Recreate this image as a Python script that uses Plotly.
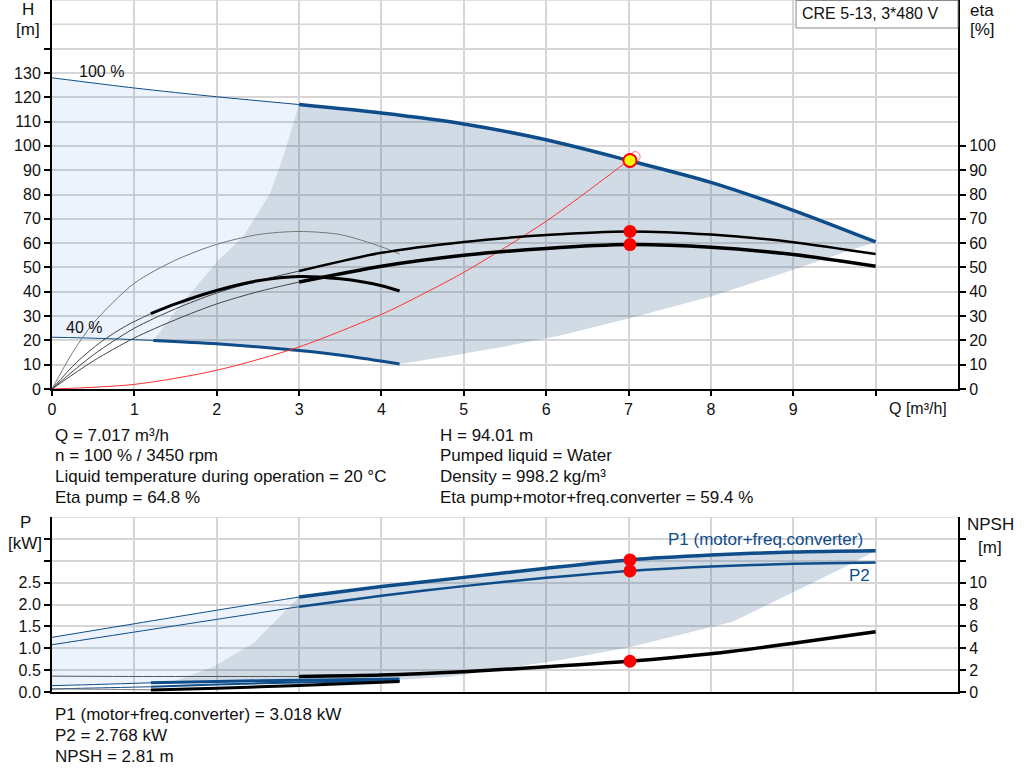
import plotly.graph_objects as go

# ---------------- DATA ----------------
q_tick_vals = [0, 1, 2, 3, 4, 5, 6, 7, 8, 9, 10]
q_tick_text = ["0", "1", "2", "3", "4", "5", "6", "7", "8", "9", ""]
h_tick_vals = [0, 10, 20, 30, 40, 50, 60, 70, 80, 90, 100, 110, 120, 130, 140]
h_tick_text = ["0", "10", "20", "30", "40", "50", "60", "70", "80", "90", "100", "110", "120", "130", ""]
eta_tick_vals = [0, 10, 20, 30, 40, 50, 60, 70, 80, 90, 100]
p_tick_vals = [0, 0.5, 1.0, 1.5, 2.0, 2.5, 3.0, 3.5]
p_tick_text = ["0.0", "0.5", "1.0", "1.5", "2.0", "2.5", "", ""]
npsh_tick_vals = [0, 2, 4, 6, 8, 10, 12, 14]
npsh_tick_text = ["0", "2", "4", "6", "8", "10", "", ""]

# Head at 100 % speed
q_h100_thin = [0, 1, 2, 3]
h100_thin = [128, 123.8, 120.2, 117]
q_h100_thick = [3, 4, 5, 6, 7, 8, 9, 10]
h100_thick = [117, 113.5, 109, 102.5, 94, 85, 73.5, 60.5]
# Head at 40 % speed
q_h40_thin = [0, 0.6, 1.23]
h40_thin = [21.3, 20.8, 20.0]
q_h40_thick = [1.23, 2, 3, 3.6, 4.22]
h40_thick = [20.0, 18.6, 15.8, 13.5, 10.3]
# Operating range boundaries (head diagram)
q_bnd_top = [1.23, 1.5, 1.75, 2.02, 2.32, 2.65, 2.82, 3.0]
h_bnd_top = [20, 32, 42, 53, 62.5, 80.5, 97, 117]
q_low_top = [4.22, 4.83, 5.5, 6.17, 7, 8, 9, 9.6, 10]
h_low_top = [10.4, 13.6, 17.5, 22, 29, 38, 49, 56, 60.5]

# Efficiency curves
q_etap100_thin = [0, 0.5, 1, 1.5, 2, 2.5, 3]
etap100_thin = [0, 14, 25, 33, 39.5, 44.5, 48.5]
q_etap100_thick = [3, 4, 5, 6, 7, 8, 9, 10]
etap100_thick = [48.5, 56, 60.5, 63.3, 64.8, 63.5, 60.4, 55.5]
q_etat100_thin = [0, 0.5, 1, 1.5, 2, 2.5, 3]
etat100_thin = [0, 11.5, 21, 28.5, 35, 40, 44]
q_etat100_thick = [3, 4, 5, 6, 7, 8, 9, 10]
etat100_thick = [44, 50.5, 55, 57.8, 59.4, 58.3, 55.3, 50.5]
q_etap40 = [0, 0.25, 0.5, 1, 1.5, 2, 2.5, 3, 3.5, 4, 4.22]
etap40 = [0, 15, 27, 43.5, 53, 59.5, 63.5, 64.8, 63.5, 58.5, 55.5]
q_etat40_thin = [0, 0.3, 0.6, 0.9, 1.2]
etat40_thin = [0, 11, 19.5, 26, 31]
q_etat40_thick = [1.2, 1.5, 2, 2.5, 3, 3.5, 4, 4.22]
etat40_thick = [31, 35, 40.5, 44.5, 46.3, 45.3, 42.5, 40.3]

# System curve
q_sys = [0, 1, 2, 3, 4, 4.22, 5, 6, 7, 7.08]
h_sys = [0, 1.9, 7.7, 17.3, 30.7, 34.2, 48, 69, 94, 96]

# Duty point
q_duty = 7.017
h_duty = 94.01
eta_pump_duty = 64.8
eta_total_duty = 59.4
p1_duty = 3.018
p2_duty = 2.768
npsh_duty = 2.81
q_req = 7.08
h_req = 95.6

# Power curves
q_p1_100_thin = [0, 1, 2, 3]
p1_100_thin = [1.25, 1.56, 1.87, 2.17]
q_p1_100_thick = [3, 4, 5, 6, 7, 8, 9, 10]
p1_100_thick = [2.17, 2.41, 2.62, 2.83, 3.018, 3.13, 3.2, 3.23]
q_p2_100_thin = [0, 1, 2, 3]
p2_100_thin = [1.08, 1.37, 1.66, 1.95]
q_p2_100_thick = [3, 4, 5, 6, 7, 8, 9, 10]
p2_100_thick = [1.95, 2.2, 2.42, 2.61, 2.768, 2.87, 2.93, 2.96]
q_p1_40_thin = [0, 0.6, 1.2]
p1_40_thin = [0.145, 0.175, 0.21]
q_p1_40_thick = [1.2, 2, 3, 4.22]
p1_40_thick = [0.21, 0.24, 0.27, 0.30]
q_p2_40_thin = [0, 0.6, 1.2]
p2_40_thin = [0.07, 0.095, 0.12]
q_p2_40_thick = [1.2, 2, 3, 4.22]
p2_40_thick = [0.12, 0.17, 0.22, 0.26]
# NPSH curves
q_npsh100_thin = [0, 1, 2, 3]
npsh100_thin = [1.45, 1.42, 1.42, 1.42]
q_npsh100_thick = [3, 4, 5, 6, 7, 8, 9, 10]
npsh100_thick = [1.42, 1.55, 1.86, 2.3, 2.81, 3.5, 4.45, 5.5]
q_npsh40_thin = [0, 0.6, 1.2]
npsh40_thin = [0.28, 0.25, 0.2]
q_npsh40_thick = [1.2, 2, 3, 4.22]
npsh40_thick = [0.18, 0.35, 0.6, 0.95]
# Operating range boundaries (power diagram)
q_bnd_bot = [1.2, 1.5, 1.96, 2.45, 2.85, 3.0]
p_bnd_bot = [0.21, 0.26, 0.58, 1.12, 1.88, 2.17]
q_low_bot = [4.22, 4.83, 6.17, 7.0, 7.6, 8.27, 9.0, 9.65, 10]
p_low_bot = [0.28, 0.35, 0.73, 1.02, 1.3, 1.61, 2.29, 2.88, 3.23]

# ---------------- STYLE ----------------
W, HP = 1024, 781
FONT = "Liberation Sans, Arial, sans-serif"
BLUE = "#0E4C8A"
LIGHT = "rgba(30,120,230,0.085)"
GREY = "rgba(40,90,140,0.217)"
GRID = "#D6D6D6"
TXT = 17


def px(x):
    return x / W


def py(y):
    return 1 - y / HP


def rev(a):
    return list(reversed(a))


fig = go.Figure()


def line(x, y, color, width, xa="x", ya="y", shape="spline"):
    fig.add_trace(go.Scatter(x=x, y=y, mode="lines", xaxis=xa, yaxis=ya,
                             line=dict(color=color, width=width, shape=shape, smoothing=0.8),
                             hoverinfo="skip", showlegend=False))


def area(x, y, color, xa="x", ya="y"):
    fig.add_trace(go.Scatter(x=x, y=y, mode="lines", fill="toself", fillcolor=color,
                             xaxis=xa, yaxis=ya, line=dict(width=0), hoverinfo="skip",
                             showlegend=False))


# ---- top diagram areas ----
area(q_h100_thin + rev(q_bnd_top) + rev(q_h40_thin),
     h100_thin + rev(h_bnd_top) + rev(h40_thin), LIGHT)
area(q_h100_thick + rev(q_low_top) + rev(q_h40_thick) + q_bnd_top,
     h100_thick + rev(h_low_top) + rev(h40_thick) + h_bnd_top, GREY)

# ---- efficiency curves ----
line(q_etap40, etap40, "#777777", 1, ya="y2")
line(q_etap100_thin, etap100_thin, "#444444", 1, ya="y2")
line(q_etat100_thin, etat100_thin, "#444444", 1, ya="y2")
line(q_etat40_thin, etat40_thin, "#444444", 1, ya="y2")
line(q_etat40_thick, etat40_thick, "black", 3, ya="y2")
line(q_etap100_thick, etap100_thick, "black", 2.5, ya="y2")
line(q_etat100_thick, etat100_thick, "black", 3.5, ya="y2")

# ---- head curves ----
line(q_h100_thin, h100_thin, BLUE, 1)
line(q_h100_thick, h100_thick, BLUE, 3.5)
line(q_h40_thin, h40_thin, BLUE, 1)
line(q_h40_thick, h40_thick, BLUE, 3)
line(q_sys, h_sys, "#FF3030", 1)

# ---- duty point markers ----
fig.add_trace(go.Scatter(x=[q_req], y=[h_req], mode="markers", hoverinfo="skip", showlegend=False,
                         marker=dict(size=10, color="rgba(0,0,0,0)",
                                     line=dict(color="rgba(255,60,60,0.7)", width=1))))
fig.add_trace(go.Scatter(x=[q_duty], y=[h_duty], mode="markers", hoverinfo="skip", showlegend=False,
                         marker=dict(size=13, color="#FFFF00", line=dict(color="#FF0000", width=2))))
fig.add_trace(go.Scatter(x=[q_duty, q_duty], y=[eta_pump_duty, eta_total_duty], mode="markers",
                         yaxis="y2", hoverinfo="skip", showlegend=False,
                         marker=dict(size=13, color="#FF0000")))

# ---- bottom diagram areas ----
area(q_p1_100_thin + rev(q_bnd_bot) + rev(q_p1_40_thin),
     p1_100_thin + rev(p_bnd_bot) + rev(p1_40_thin), LIGHT, xa="x2", ya="y3")
area(q_p1_100_thick + rev(q_low_bot) + rev(q_p1_40_thick) + q_bnd_bot,
     p1_100_thick + rev(p_low_bot) + rev(p1_40_thick) + p_bnd_bot, GREY, xa="x2", ya="y3")

line(q_npsh100_thin, npsh100_thin, "#555555", 1, xa="x2", ya="y4")
line(q_npsh40_thin, npsh40_thin, "#777777", 1, xa="x2", ya="y4")
line(q_npsh100_thick, npsh100_thick, "black", 3.5, xa="x2", ya="y4")
line(q_npsh40_thick, npsh40_thick, "black", 3, xa="x2", ya="y4")
line(q_p1_40_thin, p1_40_thin, BLUE, 1, xa="x2", ya="y3")
line(q_p2_40_thin, p2_40_thin, BLUE, 1, xa="x2", ya="y3")
line(q_p1_40_thick, p1_40_thick, BLUE, 3, xa="x2", ya="y3")
line(q_p2_40_thick, p2_40_thick, BLUE, 2, xa="x2", ya="y3")
line(q_p1_100_thin, p1_100_thin, BLUE, 1, xa="x2", ya="y3")
line(q_p2_100_thin, p2_100_thin, BLUE, 1, xa="x2", ya="y3")
line(q_p1_100_thick, p1_100_thick, BLUE, 3.5, xa="x2", ya="y3")
line(q_p2_100_thick, p2_100_thick, BLUE, 2.5, xa="x2", ya="y3")

fig.add_trace(go.Scatter(x=[q_duty, q_duty], y=[p1_duty, p2_duty], mode="markers",
                         xaxis="x2", yaxis="y3", hoverinfo="skip", showlegend=False,
                         marker=dict(size=13, color="#FF0000")))
fig.add_trace(go.Scatter(x=[q_duty], y=[npsh_duty], mode="markers",
                         xaxis="x2", yaxis="y4", hoverinfo="skip", showlegend=False,
                         marker=dict(size=13, color="#FF0000")))

# ---------------- LAYOUT ----------------
xdom = [px(52), px(958)]
top_dom = [py(389), 1.0]
bot_dom = [py(692), py(517)]
tickfont = dict(family=FONT, size=16, color="#111111")

common_x = dict(range=[0, 11], tickvals=q_tick_vals, showgrid=True, gridcolor=GRID, gridwidth=1.5,
                zeroline=False, showline=True, linecolor="black", linewidth=2, tickfont=tickfont,
                fixedrange=True, automargin=False)
common_y = dict(zeroline=False, showline=True, linecolor="black", linewidth=2, ticks="outside",
                ticklen=6, tickcolor="black", tickwidth=2, tickfont=tickfont, automargin=False,
                fixedrange=True)

fig.update_layout(
    width=W, height=HP, margin=dict(l=0, r=0, t=0, b=0, autoexpand=False),
    paper_bgcolor="white", plot_bgcolor="white", showlegend=False,
    font=dict(family=FONT, size=16, color="#111111"),
    xaxis=dict(common_x, domain=xdom, anchor="y", ticktext=q_tick_text, ticks="outside",
               ticklen=5, tickcolor="black", tickwidth=1.5),
    yaxis=dict(common_y, domain=top_dom, range=[0, 160], tickvals=h_tick_vals, ticktext=h_tick_text,
               showgrid=True, gridcolor=GRID, gridwidth=1.5, anchor="x"),
    yaxis2=dict(common_y, overlaying="y", side="right", anchor="x", range=[0, 160],
                tickvals=eta_tick_vals, showgrid=False),
    xaxis2=dict(common_x, domain=xdom, anchor="y3", showticklabels=False, ticks=""),
    yaxis3=dict(common_y, domain=bot_dom, range=[0, 4], tickvals=p_tick_vals, ticktext=p_tick_text,
                showgrid=True, gridcolor=GRID, gridwidth=1.5, anchor="x2"),
    yaxis4=dict(common_y, overlaying="y3", side="right", anchor="x2", range=[0, 16],
                tickvals=npsh_tick_vals, ticktext=npsh_tick_text, showgrid=False),
)

shapes = []
# extra top grid lines (no ticks)
for v in [150, 160]:
    shapes.append(dict(type="line", xref="x", yref="y", x0=0, x1=11, y0=v, y1=v,
                       line=dict(color=GRID, width=1.5), layer="below"))
shapes.append(dict(type="line", xref="x2", yref="y3", x0=0, x1=11, y0=4, y1=4,
                   line=dict(color=GRID, width=1.5), layer="below"))
# model box
shapes.append(dict(type="rect", xref="paper", yref="paper", x0=px(796), x1=px(958),
                   y0=py(28), y1=py(0.5), line=dict(color="#888888", width=1), fillcolor="white",
                   layer="above"))
fig.update_layout(shapes=shapes)

ann = []


def text(x, y, s, xanchor="left", color="#111111", size=TXT, xref="paper", yref="paper"):
    ann.append(dict(x=x, y=y, xref=xref, yref=yref, text=s, showarrow=False, xanchor=xanchor,
                    yanchor="middle", font=dict(family=FONT, size=size, color=color)))


text(px(870), py(14), "CRE 5-13, 3*480 V", xanchor="center", size=16)
text(px(28), py(10), "H", xanchor="center")
text(px(28), py(30), "[m]", xanchor="center")
text(px(982), py(11), "eta", xanchor="center")
text(px(982), py(30), "[%]", xanchor="center")
text(px(918), py(408), "Q [m³/h]", xanchor="center", size=16)
text(0.3, 130.5, "100 %", xref="x", yref="y", size=16)
text(0.15, 25.5, "40 %", xref="x", yref="y", size=16)

left_lines = ["Q = 7.017 m³/h", "n = 100 % / 3450 rpm",
              "Liquid temperature during operation = 20 °C", "Eta pump = 64.8 %"]
right_lines = ["H = 94.01 m", "Pumped liquid = Water", "Density = 998.2 kg/m³",
               "Eta pump+motor+freq.converter = 59.4 %"]
for i, (a, b) in enumerate(zip(left_lines, right_lines)):
    yy = 435 + i * 20.7
    text(px(53), py(yy), a)
    text(px(438), py(yy), b)

text(px(25), py(522), "P", xanchor="center")
text(px(25), py(543), "[kW]", xanchor="center")
text(px(990), py(524), "NPSH", xanchor="center")
text(px(990), py(547), "[m]", xanchor="center")
text(9.87, 3.49, "P1 (motor+freq.converter)", xanchor="right", color=BLUE, xref="x2", yref="y3")
text(9.95, 2.66, "P2", xanchor="right", color=BLUE, xref="x2", yref="y3")

bottom_lines = ["P1 (motor+freq.converter) = 3.018 kW", "P2 = 2.768 kW", "NPSH = 2.81 m"]
for i, s in enumerate(bottom_lines):
    text(px(53), py(714 + i * 21), s)

fig.update_layout(annotations=ann)
fig.write_html("out.html", config={"displayModeBar": False},
               post_script="document.body.style.margin='0px';")
